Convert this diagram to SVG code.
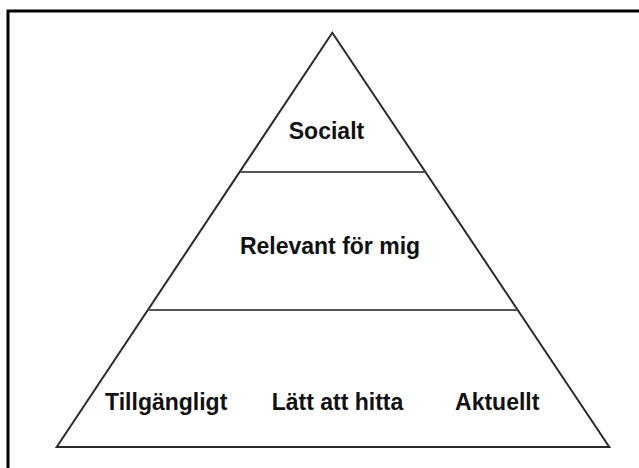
<svg xmlns="http://www.w3.org/2000/svg" width="639" height="468" viewBox="0 0 639 468">
  <style>
    .frame { stroke: #000; stroke-width: 3; fill: none; }
    .edge { stroke: #2a2a2a; stroke-width: 2; fill: none; stroke-linejoin: miter; }
    .divider { stroke: #555; stroke-width: 2; fill: none; }
    .label { font-family: "Liberation Sans", Arial, sans-serif; font-weight: bold; font-size: 23px; fill: #111; text-anchor: middle; }
  </style>
  <rect width="639" height="468" fill="#fff"/>
  <g id="frame">
    <path class="frame" d="M8,468 V11 H639"/>
  </g>
  <g id="pyramid">
    <path class="edge" d="M56.7,447 L332.3,32.7 L609.3,447 Z"/>
  </g>
  <g id="connectors">
    <line class="divider" x1="240" y1="172" x2="425" y2="172"/>
    <line class="divider" x1="148" y1="310" x2="517" y2="310"/>
  </g>
  <g id="tier-top">
    <text class="label" x="326.5" y="138.5">Socialt</text>
  </g>
  <g id="tier-middle">
    <text class="label" x="330" y="253.5">Relevant för mig</text>
  </g>
  <g id="tier-bottom">
    <text class="label" x="166.2" y="409.5">Tillgängligt</text>
    <text class="label" x="337.5" y="409.5">Lätt att hitta</text>
    <text class="label" x="497.2" y="409.5">Aktuellt</text>
  </g>
</svg>
